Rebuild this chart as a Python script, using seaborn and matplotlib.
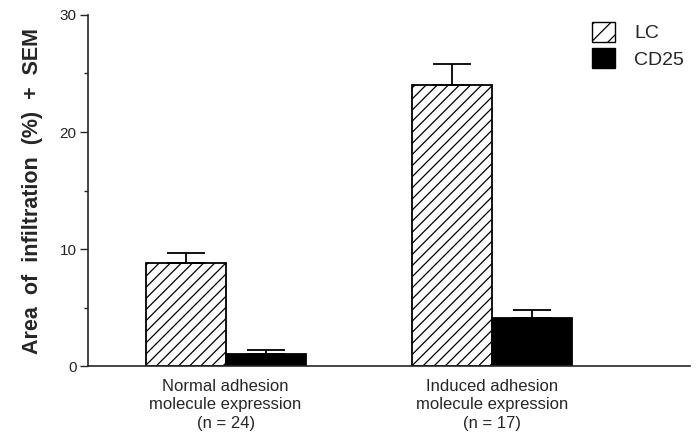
import numpy as np
import pandas as pd
import seaborn as sns
import matplotlib.pyplot as plt
from matplotlib.patches import Patch

groups = ["Normal adhesion\nmolecule expression\n(n = 24)",
          "Induced adhesion\nmolecule expression\n(n = 17)"]
cells = ["LC", "CD25"]
lc_mean = [8.8, 24.0]
lc_sem = [0.9, 1.8]
cd25_mean = [1.0, 4.1]
cd25_sem = [0.35, 0.7]

df = pd.DataFrame({
    "group": groups * 2,
    "cell": ["LC"] * 2 + ["CD25"] * 2,
    "value": lc_mean + cd25_mean,
    "sem": lc_sem + cd25_sem,
})

sns.set_style("ticks")
plt.rcParams["font.family"] = ["Liberation Sans", "DejaVu Sans"]
plt.rcParams["hatch.linewidth"] = 0.9

fig = plt.figure(figsize=(6.96, 4.41), dpi=100)
ax = fig.add_axes([0.126, 0.170, 0.865, 0.796])

sns.barplot(data=df, x="group", y="value", hue="cell", hue_order=cells,
            palette={"LC": "white", "CD25": "black"}, width=0.6, gap=0,
            edgecolor="black", linewidth=1.3, errorbar=None, legend=False, ax=ax)

# hatch the LC bars and add upper-only SEM bars
for cont, cell in zip(ax.containers, cells):
    sub = df[df["cell"] == cell]
    for bar, val, err in zip(cont, sub["value"], sub["sem"]):
        if cell == "LC":
            bar.set_hatch("///")
        x = bar.get_x() + bar.get_width() / 2
        ax.errorbar(x, val, yerr=[[0], [err]], color="black", lw=1.3,
                    capsize=14, capthick=1.3)

ax.set_xlim(-0.517, 1.74)
ax.set_ylim(0, 30)
ax.set_yticks([0, 10, 20, 30])
ax.set_yticks([5, 15, 25], minor=True)
ax.tick_params(axis="y", which="major", length=6, width=1, labelsize=11, pad=2)
ax.tick_params(axis="y", which="minor", length=3, width=1)
ax.tick_params(axis="x", length=0, labelsize=12, pad=9)
for lab in ax.get_xticklabels():
    lab.set_linespacing(1.3)
ax.set_xlabel("")
ax.set_ylabel("Area  of  infiltration  (%)  +  SEM", fontsize=15.5,
              fontweight="bold", labelpad=12)
sns.despine(ax=ax)
ax.spines["left"].set_linewidth(1.2)
ax.spines["bottom"].set_linewidth(1.2)

handles = [Patch(facecolor="white", edgecolor="black", hatch="//"),
           Patch(facecolor="black", edgecolor="black")]
ax.legend(handles, cells, loc="upper right", bbox_to_anchor=(1.02, 1.03),
          frameon=False, fontsize=14, handlelength=1.2, handleheight=1.2,
          handletextpad=1.0, labelspacing=0.3)

fig.savefig("out.png", dpi=100)
